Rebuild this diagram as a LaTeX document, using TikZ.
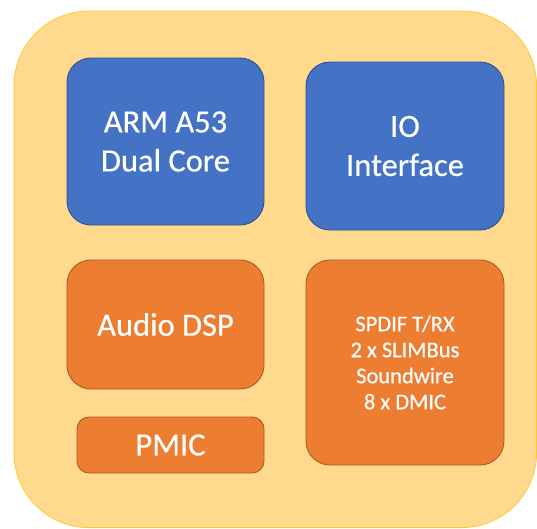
\documentclass[tikz,border=0pt]{standalone}
\usepackage{fontspec}
\setmainfont{Carlito}[UprightFeatures={FakeBold=0.4}]
\definecolor{outerfill}{HTML}{FFD98D}
\definecolor{outerline}{HTML}{FFC92E}
\definecolor{bluefill}{HTML}{4472C4}
\definecolor{blueline}{HTML}{2F528F}
\definecolor{orangefill}{HTML}{ED7D31}
\definecolor{orangeline}{HTML}{AE5A21}
\begin{document}
\begin{tikzpicture}[x=1pt,y=-1pt,
  blk/.style={rounded corners=24pt, line width=0.9pt, text=white, align=center, inner sep=0pt,
    font=\fontsize{32.5}{39}\selectfont},
  blueblk/.style={blk, fill=bluefill, draw=blueline},
  orangeblk/.style={blk, fill=orangefill, draw=orangeline}]
\useasboundingbox (0,0) rectangle (537,528);
\fill[white] (0,0) rectangle (537,528);
\draw[fill=outerfill, draw=outerline, line width=0.8pt, rounded corners=75pt] (14,11) rectangle (536.6,527.6);
\node[blueblk, minimum width=197pt, minimum height=167pt] (arm) at (165.5,141.5) {ARM A53\\Dual Core};
\node[blueblk, minimum width=198pt, minimum height=168pt] (io) at (405,146) {IO\\Interface};
\node[orangeblk, minimum width=197pt, minimum height=129pt] (dsp) at (165.5,324.5) {Audio DSP};
\node[orangeblk, rounded corners=12pt, minimum width=187pt, minimum height=56pt] (pmic) at (170.5,445) {PMIC};
\node[orangeblk, minimum width=198pt, minimum height=205pt, font=\fontsize{22.5}{26}\selectfont] (spdif) at (405,362.5) {SPDIF T/RX\\2 x SLIMBus\\Soundwire\\8 x DMIC};
\end{tikzpicture}
\end{document}
